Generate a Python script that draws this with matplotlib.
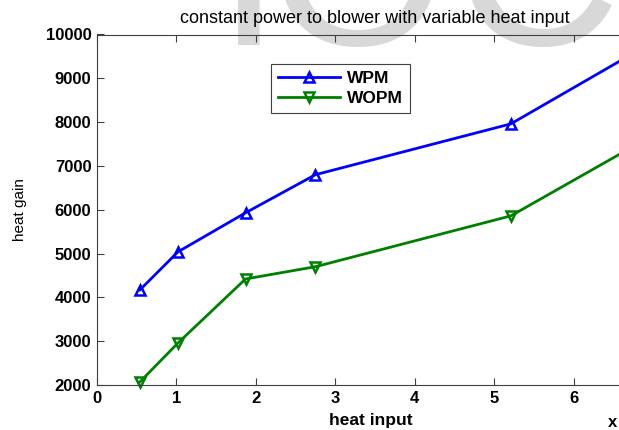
import matplotlib
matplotlib.use('Agg')
import matplotlib.pyplot as plt

plt.rcParams['font.family'] = ['Liberation Sans', 'DejaVu Sans']

heat_input = [0.54, 1.02, 1.87, 2.75, 5.21, 7.0]
wpm = [4170, 5040, 5930, 6800, 7960, 9830]
wopm = [2070, 2960, 4420, 4700, 5860, 7700]

xticks = [0, 1, 2, 3, 4, 5, 6, 7]
yticks = [2000, 3000, 4000, 5000, 6000, 7000, 8000, 9000, 10000]

fig = plt.figure(figsize=(6.19, 4.30), dpi=100)

# faded watermark letters at the top (only their bottoms are visible)
for ch, xc in [('I', 249), ('O', 357), ('C', 537)]:
    fig.text(xc / 619, 1 - 45 / 430, ch, fontsize=165, color='#d8d8d8',
             ha='center', va='baseline', zorder=-1)

# the axes run past the right edge of the picture, as in the original
ax = fig.add_axes([97 / 619, 45 / 430, 556 / 619, 350.5 / 430])
ax.patch.set_alpha(0)

ax.plot(heat_input, wpm, '-^', color='blue', lw=2.0, ms=7,
        mfc='none', mew=1.8, label='WPM', clip_on=False)
ax.plot(heat_input, wopm, '-v', color='green', lw=2.0, ms=7,
        mfc='none', mew=1.8, label='WOPM', clip_on=False)

ax.set_xlim(0, 7)
ax.set_ylim(2000, 10000)
ax.set_xticks(xticks)
ax.set_yticks(yticks)
ax.tick_params(direction='in', length=5, width=0.8, color='#404040',
               top=True, right=True, labelsize=12, pad=4)
for lab in ax.get_xticklabels() + ax.get_yticklabels():
    lab.set_fontweight('bold')
for s in ax.spines.values():
    s.set_color('#404040')
    s.set_linewidth(0.8)

ax.set_title('constant power to blower with variable heat input',
             fontsize=13, pad=8)
fig.text(20 / 619, 1 - 210 / 430, 'heat gain', fontsize=11,
         rotation=90, ha='center', va='center')
fig.text(371 / 619, 1 - 421 / 430, 'heat input', fontsize=12.5,
         fontweight='bold', ha='center', va='center')
fig.text(607 / 619, 1 - 421 / 430, 'x 10$^4$', fontsize=12,
         fontweight='bold', ha='left', va='center')

leg = ax.legend(loc='upper left', bbox_to_anchor=(174 / 556, 1 - 29 / 350.5),
                fancybox=False, framealpha=1, edgecolor='#404040',
                prop={'weight': 'bold', 'size': 12.5}, handlelength=3.6,
                borderpad=0.4, labelspacing=0.3, handletextpad=0.4,
                borderaxespad=0)
leg.get_frame().set_linewidth(0.8)

fig.savefig('out.png', dpi=100)
